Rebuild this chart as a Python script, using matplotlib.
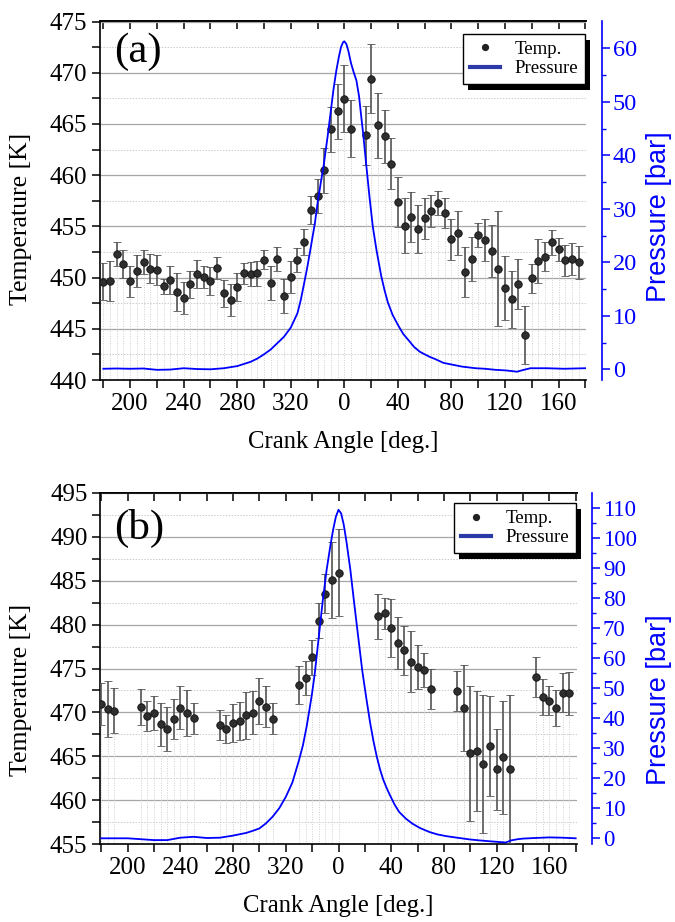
import numpy as np
import matplotlib
matplotlib.use('Agg')
import matplotlib.pyplot as plt
from matplotlib.lines import Line2D
from matplotlib.patches import Rectangle
from matplotlib.ticker import MultipleLocator, FixedLocator
from matplotlib.transforms import IdentityTransform

plt.rcParams['font.family'] = ['Liberation Serif', 'DejaVu Serif']

# ---------------- data: panel (a) ----------------
a_angle = [-180, -175, -170, -165, -160, -155, -150, -145, -140, -135,
           -130, -125, -120, -115, -110, -105, -100, -95, -90, -85,
           -80, -75, -70, -65, -60, -55, -50, -45, -40, -35,
           -30, -25, -20, -15, -10, -5, 0, 5, 16,
           20, 25, 30, 35, 40, 45, 50, 55, 60, 65, 70, 75, 80, 85, 90, 95,
           100, 105, 110, 115, 120, 125, 130, 135, 140, 145, 150, 155, 160,
           165, 170, 175]
a_temp = [449.59, 449.66, 452.29, 451.35, 449.66, 450.63, 451.51, 450.86, 450.76, 449.14,
          449.76, 448.59, 448.03, 449.34, 450.34, 450.08, 449.66, 450.96, 448.46, 447.80,
          449.10, 450.41, 450.37, 450.41, 451.74, 449.43, 451.80, 448.20, 450.02, 451.71,
          453.46, 456.59, 457.95, 460.46, 464.46, 466.24, 467.48, 464.52, 463.90,
          469.43, 464.85, 463.80, 461.10, 457.37, 455.05, 455.93, 454.73, 455.78, 456.50,
          457.30, 456.32, 453.73, 454.31, 450.54, 451.80, 454.15, 453.66, 452.59, 450.86,
          449.00, 447.87, 449.37, 444.39, 449.92, 451.64, 452.03, 453.43, 452.75, 451.68,
          451.83, 451.48]
a_err = [1.79, 1.95, 1.17, 1.35, 1.51, 1.58, 1.15, 1.43, 1.45, 0.73,
         1.33, 1.84, 1.56, 1.33, 1.35, 1.09, 1.38, 1.09, 1.33, 1.59,
         1.38, 0.99, 1.17, 1.22, 0.94, 1.66, 1.17, 1.67, 1.56, 1.14,
         1.30, 1.38, 1.69, 2.21, 2.18, 2.70, 3.25, 2.78, 2.88,
         3.38, 3.14, 2.57, 2.49, 2.41, 2.68, 2.44, 2.37, 2.03, 1.59,
         1.19, 1.49, 2.02, 2.15, 2.46, 2.13, 1.17, 2.08, 2.55, 5.61,
         3.14, 2.80, 2.44, 2.80, 1.38, 2.16, 1.40, 1.24, 1.15, 1.50,
         1.54, 1.63]
a_p_angle = [-180, -170, -160, -150, -140, -130, -120, -110, -100, -90,
             -80, -75, -70, -65, -60, -55, -50, -45, -40, -35,
             -32.5, -30, -27.5, -25, -22, -19.7, -17.5, -15.5, -12.5, -10,
             -8, -6, -4, -2.5, -1, 0, 1.5, 3, 5, 7,
             9, 11, 12.5, 14, 16.25, 18.75, 21.25, 24, 27.5, 30,
             32.5, 36, 40, 44, 48.75, 52, 56.25, 60, 64, 68,
             74, 80, 88, 98, 105, 113, 120, 124, 129, 134,
             139, 145, 151, 158, 164, 172, 180]
a_pressure = [0.1, 0.15, 0.1, 0.15, -0.1, -0.05, 0.2, 0.05, 0.0, 0.2,
              0.6, 1.0, 1.4, 2.0, 2.8, 3.7, 4.9, 6.1, 7.8, 10.5,
              13.0, 16.1, 19.3, 22.9, 27.3, 31.6, 35.0, 38.0, 43.5, 48.5,
              52.5, 55.8, 58.5, 60.2, 61.1, 61.3, 60.8, 59.5, 57.2, 55.5,
              54.0, 51.0, 47.5, 44.2, 38.5, 32.3, 26.7, 22.3, 17.5, 14.8,
              12.5, 10.2, 8.3, 6.6, 5.2, 4.2, 3.3, 2.8, 2.3, 1.9,
              1.2, 0.9, 0.5, 0.2, 0.1, -0.1, -0.2, -0.3, -0.45, -0.1,
              0.2, 0.2, 0.2, 0.15, 0.1, 0.15, 0.2]

# ---------------- data: panel (b) ----------------
b_angle = [-180, -175, -170, -150, -145, -140, -135, -130, -125, -120, -115, -110,
           -90, -85, -80, -75, -70, -65, -60, -55, -50,
           -30, -25, -20, -15, -10, -5, 0,
           30, 35, 40, 45, 50, 55, 60, 65, 70,
           90, 95, 100, 105, 110, 115, 120, 125, 130,
           150, 155, 160, 165, 170, 175]
b_temp = [470.96, 470.36, 470.20, 470.65, 469.60, 469.90, 468.65, 468.15, 469.25, 470.54, 469.94, 469.33,
          468.57, 468.15, 468.83, 469.06, 469.68, 469.97, 471.34, 470.65, 469.29,
          473.12, 473.96, 476.27, 480.44, 483.51, 485.07, 485.90,
          480.97, 481.28, 479.61, 477.94, 477.10, 475.77, 475.14, 474.83, 472.67,
          472.44, 470.54, 465.35, 465.61, 464.13, 466.22, 463.53, 464.90, 463.53,
          474.07, 471.79, 471.34, 470.54, 472.25, 472.18]
b_err = [2.37, 3.19, 2.53, 2.03, 1.74, 1.93, 2.43, 2.52, 2.28, 2.47, 2.62, 1.74,
         1.71, 1.61, 2.18, 2.18, 2.65, 2.45, 2.60, 2.35, 1.76,
         2.20, 1.93, 1.99, 1.96, 2.24, 4.27, 4.97,
         2.56, 1.74, 3.28, 2.94, 2.79, 3.48, 2.52, 1.90, 2.24,
         2.33, 4.89, 7.71, 6.83, 7.83, 5.69, 4.61, 6.45, 8.42,
         2.28, 2.05, 1.67, 2.05, 2.22, 2.42]
b_p_angle = [-180, -170, -160, -150, -140, -130, -120, -110, -100, -90,
             -80, -70, -65, -60, -55, -50, -45, -40, -35, -30,
             -27, -24.2, -22, -20, -18, -15, -12, -9, -6, -4,
             -2, 0, 2, 4, 6, 9, 12, 15, 18, 21,
             24, 26.5, 29, 31.5, 34, 36.5, 39, 42.5, 46, 51,
             56, 62, 69, 75, 82, 90, 100, 107, 115, 121,
             127, 131, 136, 140, 149, 160, 170, 180]
b_pressure = [0, 0, 0, -0.3, -0.6, -0.6, 0.2, 0.5, 0.1, 0.2,
              0.9, 1.8, 2.5, 3.3, 5.0, 7.2, 10.0, 13.8, 18.6, 26.0,
              31.0, 37.2, 43.0, 48.5, 55.0, 67.0, 79.0, 89.5, 98.0, 103.0,
              107.2, 109.5, 108.3, 104.5, 99.0, 89.5, 78.0, 67.0, 56.0, 47.0,
              38.5, 32.5, 27.3, 23.0, 19.5, 16.8, 14.4, 11.3, 8.8, 6.6,
              4.9, 3.4, 2.1, 1.3, 0.7, 0.2, -0.4, -0.7, -1.0, -1.2,
              -1.4, -0.7, -0.3, -0.1, 0.1, 0.3, 0.2, 0]

xtick_pos = [-160, -120, -80, -40, 0, 40, 80, 120, 160]
xtick_labels = ['200', '240', '280', '320', '0', '40', '80', '120', '160']
xminor_pos = [-180, -140, -100, -60, -20, 20, 60, 100, 140, 180]
top_tick_pos = list(range(-180, 181, 20))

fig = plt.figure(figsize=(6.75, 9.22), dpi=100)
W, H = 675.0, 922.0


def rect_px(left, top, right, bottom):
    return [left / W, (H - bottom) / H, (right - left) / W, (bottom - top) / H]


def panel(rect, angle, temp, err, p_angle, pres, xlim, tlim, plim, pmax, tag,
          tag_xy, leg_anchor, ylab_x, ylab_y, xlab_y, plab_x, plab_y, offset, ptick_fs):
    ax = fig.add_axes(rect)
    ax.set_xlim(*xlim)
    ax.set_ylim(*tlim)
    # grid
    ax.yaxis.set_major_locator(MultipleLocator(5))
    ax.yaxis.set_minor_locator(MultipleLocator(2.5))
    ax.grid(True, axis='y', which='major', color='#a6a6a6', lw=0.9, ls='-', zorder=0)
    ax.grid(True, axis='y', which='minor', color='#cccccc', lw=0.7, ls=(0, (1.5, 1.5)), zorder=0)
    ax.set_axisbelow(True)
    # drop lines
    tarr = np.array(temp)
    earr = np.array(err)
    ax.vlines(angle, tlim[0], tarr + earr, colors='#cfcfcf', linestyles=(0, (1, 1.5)),
              lw=0.7, zorder=1)
    ax.errorbar(angle, temp, yerr=err, fmt='o', ms=5.4, mfc='#2e2e2e', mec='#111111',
                mew=0.6, ecolor='#555555', elinewidth=1.2, capsize=3.2, capthick=1.1,
                zorder=3)
    ax.xaxis.set_major_locator(FixedLocator(xtick_pos))
    ax.set_xticklabels(xtick_labels)
    ax.xaxis.set_minor_locator(FixedLocator(xminor_pos))
    ax.tick_params(axis='both', which='both', direction='out', length=6, width=1.1,
                   labelsize=18, pad=3, top=False, right=False)
    for s in ['left', 'bottom', 'top']:
        ax.spines[s].set_linewidth(1.2)
    ax.spines['right'].set_visible(False)
    sec = ax.secondary_xaxis('top')
    sec.set_xticks(top_tick_pos)
    sec.set_xticklabels([])
    sec.tick_params(axis='x', direction='in', length=6, width=1.1)
    sec.spines['top'].set_linewidth(1.2)

    ax.set_xlabel('Crank Angle [deg.]', fontsize=17.8)
    ax.xaxis.set_label_coords(0.5, xlab_y)
    ax.set_ylabel('Temperature [K]', fontsize=18.5)
    ax.yaxis.set_label_coords(ylab_x, ylab_y)
    ax.text(tag_xy[0], tag_xy[1], tag, transform=ax.transAxes, fontsize=31,
            ha='left', va='center')

    ax2 = ax.twinx()
    ax2.plot(p_angle, pres, color='#0000ff', lw=1.3, zorder=4)
    ax2.set_ylim(*plim)
    ax2.yaxis.set_major_locator(FixedLocator(list(range(0, pmax + 1, 10))))
    ax2.yaxis.set_minor_locator(FixedLocator(list(range(5, pmax + 1, 10))))
    for s in ['left', 'bottom', 'top']:
        ax2.spines[s].set_visible(False)
    ax2.spines['right'].set_position(('outward', offset))
    ax2.spines['right'].set_color('#0000ff')
    ax2.spines['right'].set_linewidth(1.2)
    ax2.tick_params(axis='y', which='major', direction='out', length=6, width=1.1,
                    colors='#0000ff', labelcolor='#0000ff', labelsize=ptick_fs, pad=2)
    ax2.tick_params(axis='y', which='minor', direction='out', length=3, width=1.0,
                    colors='#0000ff')
    ax2.set_ylabel('Pressure [bar]', fontsize=19.5, color='#0000ff',
                   family=['Liberation Sans', 'DejaVu Sans'])
    ax2.yaxis.set_label_coords(plab_x, plab_y)

    handles = [Line2D([], [], ls='none', marker='o', ms=4.2, mfc='#222222', mec='#222222'),
               Line2D([], [], color='#2b3aa6', lw=3)]
    leg = ax2.legend(handles, ['Temp.', 'Pressure'], loc='upper right',
                     bbox_to_anchor=leg_anchor, bbox_transform=ax.transAxes,
                     frameon=True, fancybox=False, edgecolor='black', framealpha=1,
                     fontsize=13.5, handlelength=1.6, handletextpad=0.8, borderpad=0.36,
                     labelspacing=0.12, borderaxespad=0.0)
    leg.get_frame().set_linewidth(1.0)
    leg.set_zorder(10)
    return ax, ax2, leg


ax_a, ax2_a, leg_a = panel(rect_px(100, 21.5, 586, 380), a_angle, a_temp, a_err,
                           a_p_angle, a_pressure, (-182.5, 180.5), (440, 475), (-2, 65), 60,
                           '(a)', (0.03, 0.915), (0.998, 0.965),
                           -0.14, 0.45, -0.142, 1.124, 0.455, 11.3, 17.5)
ax_b, ax2_b, leg_b = panel(rect_px(100, 492.7, 577, 844.3), b_angle, b_temp, b_err,
                           b_p_angle, b_pressure, (-181, 181), (455, 495), (-2, 115.2), 110,
                           '(b)', (0.03, 0.897), (0.998, 0.970),
                           -0.1425, 0.44, -0.144, 1.144, 0.41, 10.6, 16.5)

fig.canvas.draw()
for ax2, leg in [(ax2_a, leg_a), (ax2_b, leg_b)]:
    bb = leg.get_window_extent()
    sh = Rectangle((bb.x0 + 5, bb.y0 - 5.5), bb.width, bb.height,
                   transform=IdentityTransform(), facecolor='black', edgecolor='none',
                   zorder=9)
    ax2.add_patch(sh)
    sh.set_clip_on(False)

fig.savefig('out.png', dpi=100)
